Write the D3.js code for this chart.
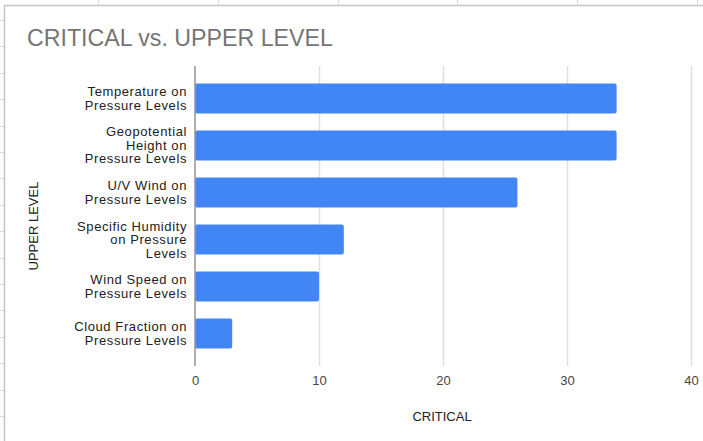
<!DOCTYPE html>
<html>
<head>
<meta charset="utf-8">
<script src="https://cdn.jsdelivr.net/npm/d3@7/dist/d3.min.js"></script>
<style>
  html, body { margin: 0; padding: 0; background: #fff; }
  svg { display: block; font-family: Arial, "Liberation Sans", sans-serif; }
</style>
</head>
<body>
<svg id="chart" width="703" height="441"></svg>
<script>
// ---- Data ----
const categories = [
  "Temperature on\nPressure Levels",
  "Geopotential\nHeight on\nPressure Levels",
  "U/V Wind on\nPressure Levels",
  "Specific Humidity\non Pressure\nLevels",
  "Wind Speed on\nPressure Levels",
  "Cloud Fraction on\nPressure Levels"
];
const critical = [34, 34, 26, 12, 10, 3];
const xTicks = [0, 10, 20, 30, 40];
const titleText = "CRITICAL vs. UPPER LEVEL";
const xTitle = "CRITICAL";
const yTitle = "UPPER LEVEL";

// ---- Drawing ----
const svg = d3.select("#chart");
const W = 703, H = 441;

// spreadsheet backdrop
svg.append("rect").attr("x", 0).attr("y", 0).attr("width", W).attr("height", H).attr("fill", "#fff");
const sheet = svg.append("g").attr("stroke", "#dadada").attr("stroke-width", 1);
[98, 218, 338, 457, 577, 697].forEach(x => {
  sheet.append("line").attr("x1", x + 0.5).attr("x2", x + 0.5).attr("y1", 0).attr("y2", 5);
});
for (let y = 20; y < H; y += 26.4) {
  sheet.append("line").attr("x1", 0).attr("x2", 4).attr("y1", Math.round(y) + 0.5).attr("y2", Math.round(y) + 0.5);
}

// chart frame
svg.append("rect")
  .attr("x", 4.5).attr("y", 5.5).attr("width", 760).attr("height", 500)
  .attr("fill", "#fff").attr("stroke", "#c4c4c4").attr("stroke-width", 1.5);

const x = d3.scaleLinear().domain([0, 40]).range([195, 691]);
const y = d3.scaleBand().domain(categories).range([66, 366])
  .paddingInner(0.36).paddingOuter(0.37);

// title
svg.append("text")
  .attr("x", 27).attr("y", 46)
  .attr("font-size", 23.2).attr("fill", "#757575")
  .text(titleText);

// gridlines
const grid = d3.axisBottom(x).tickValues(xTicks.filter(d => d !== 0))
  .tickSize(-(366 - 66)).tickFormat("");
svg.append("g").attr("transform", "translate(0,366)").call(grid)
  .call(g => g.select(".domain").remove())
  .call(g => g.selectAll("line").attr("stroke", "#e0e0e0").attr("stroke-width", 1.5));

// bars
svg.append("g").selectAll("rect")
  .data(categories)
  .join("rect")
  .attr("x", x(0))
  .attr("y", d => y(d))
  .attr("width", (d, i) => x(critical[i]) - x(0))
  .attr("height", y.bandwidth())
  .attr("rx", 2)
  .attr("fill", "#4285f4");

// baseline axis (0)
svg.append("line")
  .attr("x1", x(0)).attr("x2", x(0)).attr("y1", 66).attr("y2", 366)
  .attr("stroke", "#999").attr("stroke-width", 1.6);

// x tick labels
const xAxis = d3.axisBottom(x).tickValues(xTicks).tickSize(0).tickPadding(0).tickFormat(d3.format("d"));
svg.append("g").attr("transform", "translate(0,375)").call(xAxis)
  .call(g => g.select(".domain").remove())
  .call(g => g.selectAll("text").attr("font-size", 13).attr("fill", "#444")
    .attr("font-family", "Arial, 'Liberation Sans', sans-serif").attr("dy", "0.77em"));

// y category labels
const yAxis = d3.axisLeft(y).tickSize(0).tickPadding(0);
const yg = svg.append("g").attr("transform", "translate(187,0)").call(yAxis);
yg.select(".domain").remove();
yg.selectAll("text").each(function(d) {
  const t = d3.select(this);
  const lines = d.split("\n");
  t.text(null).attr("dy", null).attr("x", 0)
    .attr("font-size", 13).attr("fill", "#222")
    .attr("letter-spacing", "0.6px")
    .attr("font-family", "Arial, 'Liberation Sans', sans-serif")
    .attr("text-anchor", "end");
  const lh = 13.5;
  lines.forEach((ln, i) => {
    t.append("tspan").attr("x", 0)
      .attr("y", -(lines.length - 1) / 2 * lh + i * lh + 4.5)
      .text(ln);
  });
});

// axis titles
svg.append("text")
  .attr("x", 442).attr("y", 421)
  .attr("text-anchor", "middle").attr("font-size", 13).attr("fill", "#222")
  .text(xTitle);

svg.append("text")
  .attr("transform", "translate(38,226) rotate(-90)")
  .attr("text-anchor", "middle").attr("font-size", 13).attr("fill", "#222")
  .text(yTitle);
</script>
</body>
</html>
